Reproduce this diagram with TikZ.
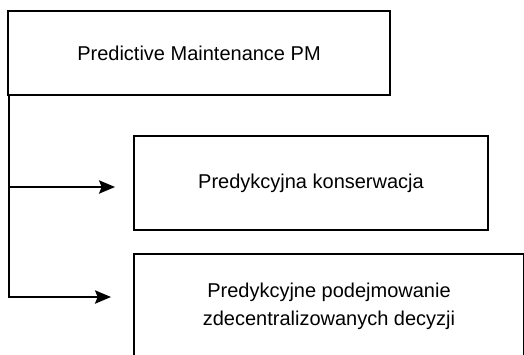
\documentclass[tikz,border=0pt]{standalone}
\usepackage{fontspec}
\setmainfont{Liberation Sans}
\usetikzlibrary{arrows.meta,positioning}

\begin{document}
\begin{tikzpicture}[
        x=0.75pt, y=-0.75pt,
        font=\fontsize{15pt}{21pt}\selectfont,
        block/.style={
            draw,
            line width=1.3pt,
            align=center,
            inner sep=0pt
        },
        arrow/.style={-{Stealth[length=12pt,width=10pt,inset=2pt]}, line width=1.3pt}
    ]

    \clip (0,0) rectangle (524,354);

    \node[block, minimum width=286.5pt, minimum height=63pt] (pm) at (199,53) {Predictive Maintenance PM};

    \node[block, minimum width=265.5pt, minimum height=70.5pt] (kons) at (311,183) {Predykcyjna konserwacja};

    \node[block, minimum width=292.5pt, minimum height=78pt] (decyzje) at (329,306) {Predykcyjne podejmowanie\\zdecentralizowanych decyzji};

    \coordinate (tip1) at (115,187);
    \coordinate (tip2) at (111,297);

    \draw[arrow] ([xshift=1.5pt]pm.south west) |- (tip2);
    \draw[arrow] ([xshift=1.5pt]pm.south west |- tip1) -- (tip1);

    \end{tikzpicture}
\end{document}
